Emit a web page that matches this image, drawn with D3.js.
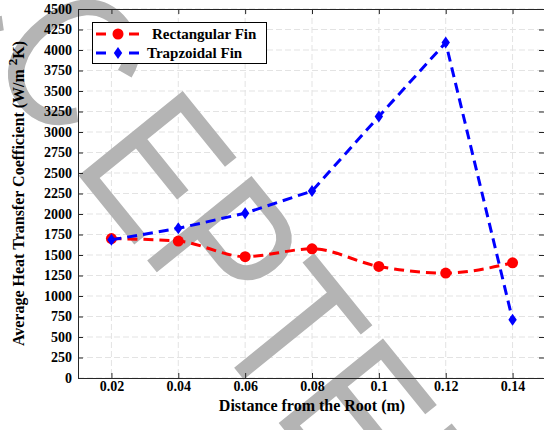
<!DOCTYPE html>
<html>
<head>
<meta charset="utf-8">
<script src="https://cdn.jsdelivr.net/npm/d3@7"></script>
<style>
  body { margin: 0; background: #fff; }
  svg { display: block; }
</style>
</head>
<body>
<svg width="544" height="430"></svg>
<script>
// values
const distance = [0.02, 0.04, 0.06, 0.08, 0.1, 0.12, 0.14];
const rectangularFin = [1700, 1670, 1480, 1575, 1360, 1280, 1405];
const trapzoidalFin = [1685, 1825, 2010, 2280, 3190, 4090, 710];
const xTickValues = [0.02, 0.04, 0.06, 0.08, 0.1, 0.12, 0.14];
const xTickLabels = ["0.02", "0.04", "0.06", "0.08", "0.1", "0.12", "0.14"];
const yTickValues = [0, 250, 500, 750, 1000, 1250, 1500, 1750, 2000, 2250,
  2500, 2750, 3000, 3250, 3500, 3750, 4000, 4250, 4500];
const seriesNames = ["Rectangular Fin", "Trapzoidal Fin"];

const svg = d3.select("svg");
const plotLeft = 78, plotRight = 546, plotTop = 9, plotBottom = 378;
const axisColor = "#262626";
const serif = "'Liberation Serif', 'Times New Roman', serif";

const x = d3.scaleLinear().domain([0.01, 0.15]).range([plotLeft, plotRight]);
const y = d3.scaleLinear().domain([0, 4500]).range([plotBottom, plotTop]);

// grid
const grid = svg.append("g").attr("stroke", "#e3e3e3").attr("stroke-width", 1)
  .attr("stroke-dasharray", "6,3");
grid.selectAll(".gx").data(xTickValues).enter().append("line")
  .attr("x1", d => x(d)).attr("x2", d => x(d))
  .attr("y1", plotTop).attr("y2", plotBottom);
grid.selectAll(".gy").data(yTickValues).enter().append("line")
  .attr("x1", plotLeft).attr("x2", plotRight)
  .attr("y1", d => y(d)).attr("y2", d => y(d));

// watermark, under the data and legend
const wm = svg.append("text")
  .attr("transform", "translate(78,175) rotate(51) scale(0.84,1)")
  .attr("x", -453).attr("y", 0)
  .attr("font-family", "'Liberation Sans', Arial, sans-serif")
  .attr("font-size", 195)
  .attr("fill", "#b4b4b4");
wm.append("tspan").text("ACC");
wm.append("tspan").attr("dx", 26).text("EPTED");

// axes, ticks pointing inward
function styleAxis(g) {
  g.select(".domain").attr("stroke", axisColor);
  g.selectAll(".tick line").attr("stroke", axisColor);
  g.selectAll("text").attr("fill", "#000").attr("font-family", serif)
    .attr("font-size", 14).attr("font-weight", "bold");
}
const fmtX = d => xTickLabels[xTickValues.indexOf(d)];

svg.append("g").attr("transform", `translate(0,${plotBottom})`)
  .call(d3.axisBottom(x).tickValues(xTickValues).tickFormat(fmtX)
    .tickSize(-5).tickPadding(3).tickSizeOuter(0))
  .call(styleAxis);
svg.append("g").attr("transform", `translate(0,${plotTop})`)
  .call(d3.axisTop(x).tickValues(xTickValues).tickFormat("")
    .tickSize(-5).tickSizeOuter(0))
  .call(styleAxis);
svg.append("g").attr("transform", `translate(${plotLeft},0)`)
  .call(d3.axisLeft(y).tickValues(yTickValues).tickFormat(d3.format("d"))
    .tickSize(-5).tickPadding(6).tickSizeOuter(0))
  .call(styleAxis);
svg.append("g").attr("transform", `translate(${plotRight - 2},0)`)
  .call(d3.axisRight(y).tickValues(yTickValues).tickFormat("")
    .tickSize(-5).tickSizeOuter(0))
  .call(styleAxis);

// axis titles
svg.append("text")
  .attr("x", (plotLeft + plotRight) / 2).attr("y", 411)
  .attr("text-anchor", "middle")
  .attr("font-family", serif).attr("font-size", 16).attr("font-weight", "bold")
  .text("Distance from the Root (m)");

const yt = svg.append("text")
  .attr("transform", `translate(24,${(plotTop + plotBottom) / 2}) rotate(-90)`)
  .attr("text-anchor", "middle")
  .attr("font-family", serif).attr("font-size", 16).attr("font-weight", "bold");
yt.append("tspan").text("Average Heat Transfer Coefficient (W/m ");
yt.append("tspan").attr("dy", -7).attr("font-size", 13).text("2");
yt.append("tspan").attr("dy", 7).text("K)");

// series
const rectLine = d3.line().x((d, i) => x(distance[i])).y(d => y(d))
  .curve(d3.curveMonotoneX);
const trapLine = d3.line().x((d, i) => x(distance[i])).y(d => y(d));

svg.append("path").datum(rectangularFin)
  .attr("d", rectLine).attr("fill", "none")
  .attr("stroke", "#ff0000").attr("stroke-width", 3)
  .attr("stroke-dasharray", "10,6");
svg.selectAll(".rm").data(rectangularFin).enter().append("circle")
  .attr("cx", (d, i) => x(distance[i])).attr("cy", d => y(d))
  .attr("r", 5.5).attr("fill", "#ff0000");

svg.append("path").datum(trapzoidalFin)
  .attr("d", trapLine).attr("fill", "none")
  .attr("stroke", "#0000ff").attr("stroke-width", 3)
  .attr("stroke-dasharray", "10,6");
const diamond = "M0,-6L4.2,0L0,6L-4.2,0Z";
svg.selectAll(".tm").data(trapzoidalFin).enter().append("path")
  .attr("transform", (d, i) => `translate(${x(distance[i])},${y(d)})`)
  .attr("d", diamond).attr("fill", "#0000ff");

// legend
const legend = svg.append("g");
legend.append("rect").attr("x", 92.5).attr("y", 22.5).attr("width", 174).attr("height", 41)
  .attr("fill", "#fff").attr("stroke", "#000").attr("stroke-width", 1);
const colors = ["#ff0000", "#0000ff"];
const legendY = [34, 53];
const textX = [152, 147];
seriesNames.forEach((name, i) => {
  legend.append("line").attr("x1", 96).attr("x2", 140)
    .attr("y1", legendY[i]).attr("y2", legendY[i])
    .attr("stroke", colors[i]).attr("stroke-width", 3).attr("stroke-dasharray", "10,23");
  if (i === 0) {
    legend.append("circle").attr("cx", 118).attr("cy", legendY[i]).attr("r", 5.5)
      .attr("fill", colors[i]);
  } else {
    legend.append("path").attr("transform", `translate(118,${legendY[i]})`)
      .attr("d", diamond).attr("fill", colors[i]);
  }
  legend.append("text").attr("x", textX[i]).attr("y", legendY[i] + 5)
    .attr("font-family", serif).attr("font-size", 15).attr("font-weight", "bold")
    .text(name);
});
</script>
</body>
</html>
